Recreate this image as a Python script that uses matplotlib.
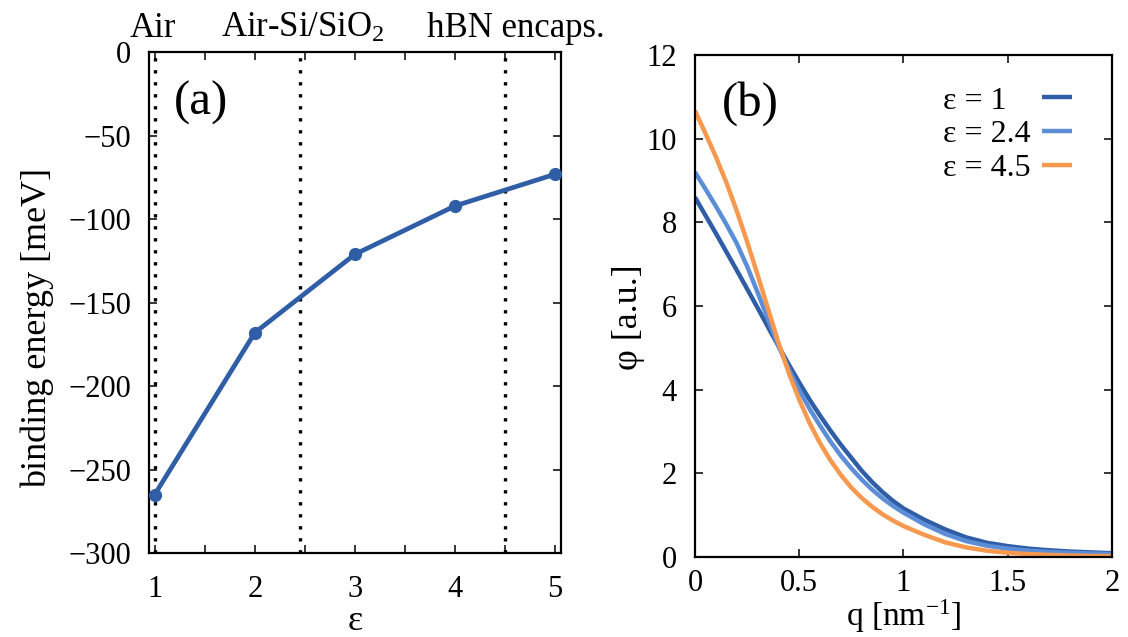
import matplotlib
matplotlib.use("Agg")
import matplotlib.pyplot as plt
from matplotlib.ticker import MultipleLocator, FuncFormatter

plt.rcParams['font.family'] = ['Liberation Serif', 'DejaVu Serif']
plt.rcParams['mathtext.fontset'] = 'custom'
plt.rcParams['mathtext.rm'] = 'Liberation Serif'
plt.rcParams['mathtext.it'] = 'Liberation Serif:italic'
plt.rcParams['axes.linewidth'] = 1.6

# (a) exciton binding energy versus dielectric constant
eps_vals = [1, 2, 3, 4, 5]
binding_energy = [-265, -168, -121, -92, -73]

# substrate environments marked by vertical lines
env_eps = [1.0, 2.45, 4.5]
env_labels = ['Air', 'Air-Si/SiO$_2$', 'hBN encaps.']
env_label_x = [0.98, 2.48, 4.61]

# (b) wavefunctions in momentum space
q = [0.0, 0.05, 0.1, 0.15, 0.2, 0.25, 0.3, 0.35, 0.4, 0.45, 0.5, 0.55, 0.6,
     0.65, 0.7, 0.75, 0.8, 0.85, 0.9, 0.95, 1.0, 1.1, 1.2, 1.3, 1.4, 1.5,
     1.6, 1.7, 1.8, 1.9, 2.0]
phi_eps1 = [8.6, 8.17, 7.74, 7.3, 6.86, 6.41, 5.96, 5.5, 5.05, 4.6, 4.17, 3.76,
            3.38, 3.02, 2.68, 2.37, 2.06, 1.79, 1.55, 1.34, 1.16, 0.89, 0.66,
            0.47, 0.34, 0.26, 0.2, 0.16, 0.13, 0.11, 0.09]
phi_eps24 = [9.2, 8.8, 8.39, 7.96, 7.5, 6.95, 6.33, 5.69, 5.05, 4.49, 3.99,
             3.54, 3.14, 2.76, 2.42, 2.12, 1.85, 1.61, 1.4, 1.22, 1.06, 0.78,
             0.55, 0.38, 0.27, 0.2, 0.15, 0.12, 0.1, 0.085, 0.07]
phi_eps45 = [10.67, 10.13, 9.57, 8.96, 8.28, 7.54, 6.75, 5.94, 5.13, 4.4, 3.76,
             3.2, 2.72, 2.31, 1.96, 1.66, 1.41, 1.2, 1.02, 0.87, 0.74, 0.53,
             0.35, 0.23, 0.15, 0.1, 0.07, 0.05, 0.035, 0.025, 0.02]
series_labels = ['ε = 1', 'ε = 2.4', 'ε = 4.5']
series_colors = ['#2f5ea6', '#5b8ed6', '#f7984f']

fig = plt.figure(figsize=(11.28, 6.37), dpi=100)
axA = fig.add_axes([0.1322, 0.1319, 0.3652, 0.7858])
axB = fig.add_axes([0.6161, 0.1256, 0.3697, 0.7880])

tick_kw = dict(direction='in', top=True, right=True, length=5.5, width=1.1,
               labelsize=22)
fmt = FuncFormatter(lambda v, pos: '{:g}'.format(v).replace('-', '\u2212'))

# ---- panel (a)
for xe in env_eps:
    axA.axvline(xe, color='black', lw=2.4, linestyle=(0, (1, 2.6)),
                dash_capstyle='butt', zorder=1)
axA.plot(eps_vals, binding_energy, color='#2f5ea6', lw=3.4, marker='o',
         markersize=8.5, zorder=3)
axA.set_xlim(0.944, 5.06)
axA.set_ylim(-300, 0)
axA.xaxis.set_major_locator(MultipleLocator(1))
axA.xaxis.set_minor_locator(MultipleLocator(0.5))
axA.yaxis.set_major_locator(MultipleLocator(50))
axA.yaxis.set_major_formatter(fmt)
axA.tick_params(which='both', **tick_kw)
axA.tick_params(axis='x', which='both', pad=16)
axA.tick_params(axis='y', which='both', pad=13)
axA.set_xlabel('ε', fontsize=26, va='top')
axA.xaxis.set_label_coords(0.5, -0.104)
axA.set_ylabel('binding energy [meV]', fontsize=26)
axA.yaxis.set_label_coords(-0.232, 0.45)
axA.text(0.06, 0.9, '(a)', transform=axA.transAxes, fontsize=35,
         va='center', ha='left')
for lx, lab in zip(env_label_x, env_labels):
    axA.text(lx, 1.0316, lab, transform=axA.get_xaxis_transform(),
             fontsize=25, ha='center', va='baseline')

# ---- panel (b)
for phi, lab, col in zip([phi_eps1, phi_eps24, phi_eps45], series_labels,
                         series_colors):
    axB.plot(q, phi, color=col, lw=3.2, label=lab, solid_capstyle='butt')
axB.set_xlim(0, 2)
axB.set_ylim(0, 12)
axB.xaxis.set_major_locator(MultipleLocator(0.5))
axB.yaxis.set_major_locator(MultipleLocator(2))
axB.xaxis.set_major_formatter(fmt)
axB.tick_params(which='both', **tick_kw)
axB.tick_params(axis='x', pad=9)
axB.tick_params(axis='y', pad=13)
axB.set_xlabel('q [nm$^{-1}$]', fontsize=24, va='top')
axB.xaxis.set_label_coords(0.5, -0.08)
axB.set_ylabel('φ [a.u.]', fontsize=26)
axB.yaxis.set_label_coords(-0.12, 0.478)
axB.text(0.065, 0.904, '(b)', transform=axB.transAxes, fontsize=35,
         va='center', ha='left')
leg = axB.legend(loc='upper right', bbox_to_anchor=(0.904, 0.938),
                 frameon=False, markerfirst=False, fontsize=23,
                 handlelength=0.95, handletextpad=0.35, labelspacing=0.14,
                 borderpad=0.0, borderaxespad=0.0)

# left-align the legend labels while keeping the line samples in one column
fig.canvas.draw()
renderer = fig.canvas.get_renderer()
label_widths = [t.get_window_extent(renderer).width for t in leg.get_texts()]
widest = max(label_widths)
for column in leg._legend_handle_box.get_children():
    column.align = 'left'
    for row, w in zip(column.get_children(), label_widths):
        row.sep += (widest - w) * 72.0 / fig.dpi

fig.savefig('out.png', dpi=100)
